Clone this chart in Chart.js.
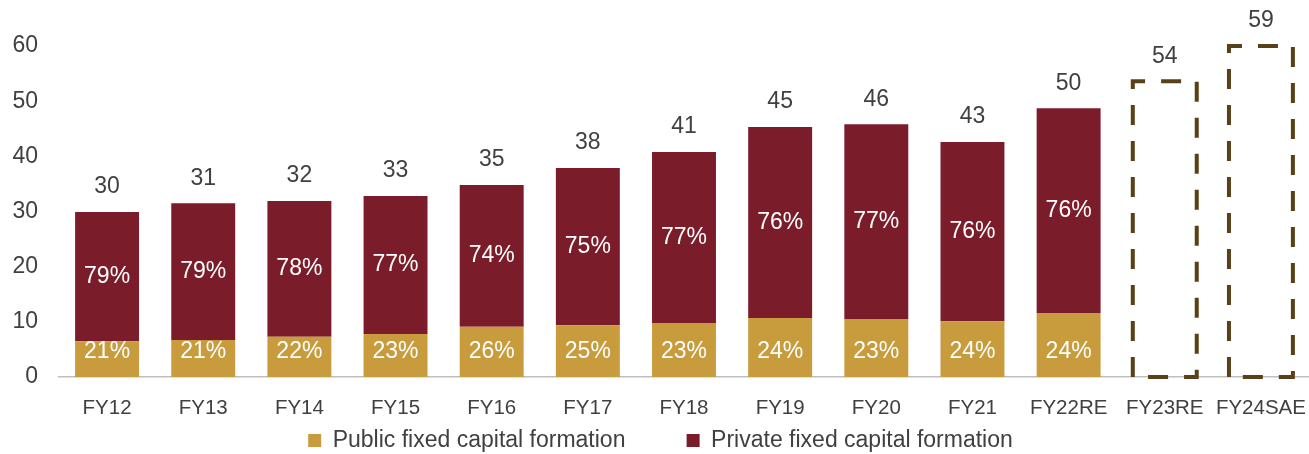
<!DOCTYPE html>
<html>
<head>
<meta charset="utf-8">
<script src="https://cdn.jsdelivr.net/npm/chart.js@4/dist/chart.umd.min.js"></script>
<style>
  body { margin: 0; background: #fff; }
  #wrap { width: 1309px; height: 454px; }
</style>
</head>
<body>
<div id="wrap"><canvas id="chart" width="1309" height="454"></canvas></div>
<script>
var categories = ['FY12', 'FY13', 'FY14', 'FY15', 'FY16', 'FY17', 'FY18', 'FY19', 'FY20', 'FY21', 'FY22RE', 'FY23RE', 'FY24SAE'];
var publicVals = [6.5, 6.7, 7.3, 7.8, 9.1, 9.4, 9.8, 10.7, 10.5, 10.1, 11.6, null, null];
var privateVals = [23.4, 24.8, 24.6, 25.0, 25.7, 28.5, 31.0, 34.6, 35.3, 32.5, 37.1, null, null];
var estimateVals = [null, null, null, null, null, null, null, null, null, null, null, 53.6, 60];
var totalLabels = ['30', '31', '32', '33', '35', '38', '41', '45', '46', '43', '50', '54', '59'];
var publicPct = ['21%', '21%', '22%', '23%', '26%', '25%', '23%', '24%', '23%', '24%', '24%', null, null];
var privatePct = ['79%', '79%', '78%', '77%', '74%', '75%', '77%', '76%', '77%', '76%', '76%', null, null];
var yTicks = [0, 10, 20, 30, 40, 50, 60];

var FONT = '"Liberation Sans", Arial, sans-serif';
var GOLD = '#C89B3C';
var MAROON = '#7B1C2A';
var DASH = '#594117';
var TEXT = '#404040';

// labels on and above the bars, plus dashed outline for estimate bars
var labelPlugin = {
    id: 'barLabels',
    afterDatasetsDraw(chart) {
        var ctx = chart.ctx;
        var pub = chart.getDatasetMeta(0).data;
        var pri = chart.getDatasetMeta(1).data;
        var est = chart.getDatasetMeta(2).data;
        ctx.save();
        // dashed boxes
        ctx.strokeStyle = DASH;
        ctx.lineWidth = 4;
        ctx.setLineDash([20, 16]);
        est.forEach(function (el, i) {
            if (estimateVals[i] == null) return;
            var p = el.getProps(['x', 'y', 'base', 'width'], true);
            ctx.beginPath();
            ctx.moveTo(p.x - p.width / 2, p.base);
            ctx.lineTo(p.x - p.width / 2, p.y);
            ctx.lineTo(p.x + p.width / 2, p.y);
            ctx.lineTo(p.x + p.width / 2, p.base);
            ctx.lineTo(p.x - p.width / 2, p.base);
            ctx.stroke();
        });
        ctx.setLineDash([]);
        ctx.textAlign = 'center';
        ctx.textBaseline = 'middle';
        ctx.font = '23px ' + FONT;
        categories.forEach(function (c, i) {
            var top;
            if (estimateVals[i] != null) {
                top = est[i].getProps(['y'], true).y;
            } else {
                top = pri[i].getProps(['y'], true).y;
            }
            ctx.fillStyle = TEXT;
            ctx.fillText(totalLabels[i], pri[i].getProps(['x'], true).x, top - 25);
            if (privatePct[i]) {
                var a = pri[i].getProps(['x', 'y', 'base'], true);
                ctx.fillStyle = '#ffffff';
                ctx.fillText(privatePct[i], a.x, (a.y + a.base) / 2);
            }
            if (publicPct[i]) {
                var b = pub[i].getProps(['x', 'y', 'base'], true);
                ctx.fillStyle = '#ffffff';
                ctx.fillText(publicPct[i], b.x, b.base - 25);
            }
        });
        ctx.restore();
    }
};

var chart = new Chart(document.getElementById('chart'), {
    type: 'bar',
    data: {
        labels: categories,
        datasets: [{
            label: 'Public fixed capital formation',
            data: publicVals,
            backgroundColor: GOLD,
            stack: 's'
        }, {
            label: 'Private fixed capital formation',
            data: privateVals,
            backgroundColor: MAROON,
            stack: 's'
        }, {
            label: 'estimate',
            data: estimateVals,
            backgroundColor: 'rgba(0,0,0,0)',
            borderWidth: 0,
            stack: 's'
        }]
    },
    options: {
        responsive: false,
        animation: false,
        devicePixelRatio: 1,
        categoryPercentage: 1,
        barPercentage: 0.665,
        layout: { padding: { top: 46, left: 12, right: 0, bottom: -8 } },
        plugins: {
            tooltip: { enabled: false },
            legend: {
                position: 'bottom',
                labels: {
                    filter: function (item) { return item.datasetIndex < 2; },
                    generateLabels: function (ch) {
                        var items = Chart.defaults.plugins.legend.labels.generateLabels(ch);
                        // widen the gap between the two entries
                        items.forEach(function (it) {
                            if (it.datasetIndex === 0) it.text = it.text + '\u2007\u2007\u2007\u2007';
                            it.lineWidth = 0;
                        });
                        return items;
                    },
                    boxWidth: 13,
                    boxHeight: 13,
                    padding: 10,
                    color: TEXT,
                    font: { family: FONT, size: 23 }
                }
            }
        },
        scales: {
            x: {
                stacked: true,
                grid: { display: false, drawTicks: false },
                border: { display: true, color: '#bfbfbf', width: 1.5 },
                afterFit: function (scale) {
                    scale.height = 42;
                    scale.paddingLeft = 0;
                    scale.paddingRight = 0;
                },
                ticks: {
                    color: TEXT,
                    font: { family: FONT, size: 20.5 },
                    padding: 19,
                    autoSkip: false,
                    maxRotation: 0
                }
            },
            y: {
                stacked: true,
                min: 0,
                max: 60,
                grid: { display: false, drawTicks: false },
                border: { display: false },
                afterFit: function (scale) {
                    scale.width = 47;
                },
                afterBuildTicks: function (axis) {
                    axis.ticks = yTicks.map(function (v) { return { value: v }; });
                },
                ticks: {
                    color: TEXT,
                    font: { family: FONT, size: 23 },
                    padding: 21
                }
            }
        }
    },
    plugins: [labelPlugin]
});
</script>
</body>
</html>
